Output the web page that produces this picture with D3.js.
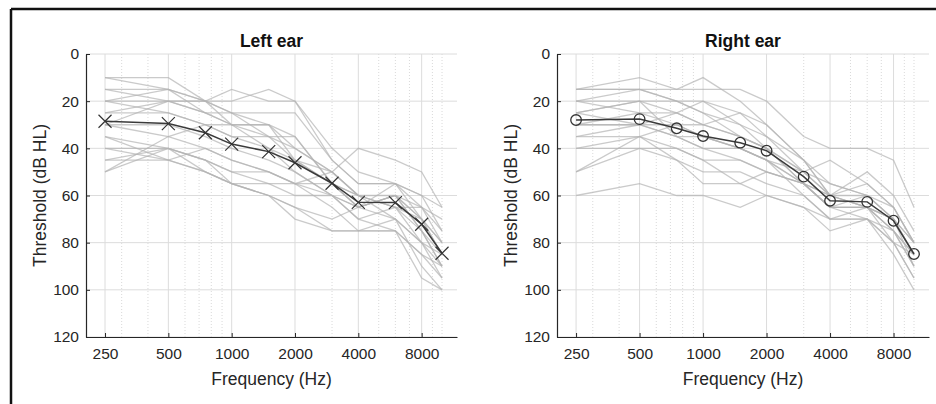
<!DOCTYPE html>
<html>
<head>
<meta charset="utf-8">
<script src="https://cdn.jsdelivr.net/npm/d3@7"></script>
<style>
  body { margin: 0; background: #fff; }
  svg text { font-family: "Liberation Sans", Arial, sans-serif; }
</style>
</head>
<body>
<div id="chart"></div>
<script>
// test frequencies (Hz)
var freqs = [250, 500, 750, 1000, 1500, 2000, 3000, 4000, 6000, 8000, 10000];
var xTicks = [250, 500, 1000, 2000, 4000, 8000];
var yTicks = [0, 20, 40, 60, 80, 100, 120];
// minor log grid
var minorTicks = [300, 400, 600, 700, 800, 900, 3000, 5000, 6000, 7000, 9000, 10000];

// individual thresholds, left ear (dB HL)
var leftLines = [
  [10, 10, 20, 25, 35, 45, 55, 60, 65, 70, 80],
  [10, 15, 25, 30, 40, 50, 60, 65, 60, 75, 90],
  [15, 15, 20, 15, 20, 20, 40, 50, 55, 60, 65],
  [15, 20, 25, 25, 25, 25, 45, 55, 55, 65, 75],
  [20, 15, 20, 20, 15, 20, 45, 55, 55, 70, 85],
  [20, 25, 30, 30, 30, 40, 50, 60, 65, 65, 80],
  [25, 25, 30, 35, 40, 45, 55, 65, 60, 75, 90],
  [25, 20, 20, 25, 30, 45, 50, 60, 70, 80, 85],
  [30, 30, 35, 40, 45, 50, 60, 70, 75, 85, 95],
  [30, 35, 40, 45, 50, 55, 55, 60, 60, 70, 80],
  [35, 40, 45, 50, 55, 60, 60, 70, 65, 80, 95],
  [35, 45, 40, 45, 50, 55, 65, 75, 70, 90, 100],
  [40, 40, 45, 55, 60, 65, 75, 75, 75, 95, 100],
  [40, 45, 50, 55, 55, 55, 60, 65, 60, 70, 85],
  [45, 40, 50, 55, 60, 65, 70, 65, 55, 60, 75],
  [45, 45, 50, 55, 60, 70, 75, 75, 75, 85, 90],
  [50, 40, 45, 50, 50, 55, 50, 40, 45, 50, 65],
  [50, 35, 30, 35, 35, 40, 50, 60, 65, 75, 85],
  [30, 20, 20, 30, 30, 35, 55, 65, 70, 80, 90],
  [20, 20, 25, 30, 35, 35, 55, 65, 60, 65, 70]
];
var leftMean = [28.5, 29.5, 33.4, 38.2, 41.4, 46.1, 54.8, 62.9, 63, 72.2, 84.5];

// individual thresholds, right ear (dB HL)
var rightLines = [
  [15, 15, 15, 15, 15, 20, 35, 40, 40, 45, 65],
  [15, 10, 15, 10, 20, 30, 45, 60, 50, 60, 75],
  [15, 15, 20, 25, 30, 40, 55, 65, 60, 70, 85],
  [20, 15, 20, 20, 25, 35, 50, 60, 65, 70, 90],
  [20, 20, 25, 30, 35, 40, 50, 60, 60, 65, 80],
  [25, 20, 20, 25, 35, 40, 55, 65, 65, 75, 85],
  [25, 30, 30, 30, 35, 40, 50, 55, 60, 70, 80],
  [30, 30, 35, 35, 40, 45, 55, 65, 70, 75, 90],
  [30, 25, 30, 35, 40, 45, 60, 70, 65, 75, 85],
  [35, 30, 35, 40, 40, 45, 55, 60, 65, 70, 85],
  [35, 35, 40, 45, 45, 50, 55, 65, 65, 80, 95],
  [40, 35, 30, 35, 40, 45, 50, 45, 55, 65, 80],
  [40, 40, 45, 50, 50, 55, 60, 70, 70, 80, 95],
  [50, 40, 40, 45, 55, 60, 65, 70, 70, 85, 100],
  [50, 35, 45, 55, 55, 50, 55, 65, 65, 75, 90],
  [60, 55, 60, 60, 65, 60, 65, 75, 70, 80, 85],
  [20, 25, 25, 20, 30, 35, 45, 55, 60, 70, 80],
  [30, 30, 25, 30, 25, 30, 45, 60, 65, 70, 85],
  [25, 20, 35, 40, 45, 50, 55, 60, 55, 65, 80]
];
var rightMean = [28, 27.6, 31.5, 34.8, 37.6, 41, 52, 62.2, 62.7, 70.7, 84.8];

var W = 936, H = 404;

var svg = d3.select("#chart")
  .append("svg")
  .attr("width", W)
  .attr("height", H);

// outer frame
svg.append("line").attr("x1", 11).attr("x2", W).attr("y1", 9).attr("y2", 9)
  .attr("stroke", "#111").attr("stroke-width", 2.5);
svg.append("line").attr("x1", 11).attr("x2", 11).attr("y1", 9).attr("y2", H)
  .attr("stroke", "#111").attr("stroke-width", 2.5);

var panels = [
  {title: "Left ear", lines: leftLines, mean: leftMean, marker: "x", left: 86, right: 457},
  {title: "Right ear", lines: rightLines, mean: rightMean, marker: "o", left: 557, right: 929}
];

var plotTop = 54, plotBottom = 337;

panels.forEach(function(p) {

  var x = d3.scaleLog()
    .domain([203, 11780])
    .range([p.left, p.right]);

  var y = d3.scaleLinear()
    .domain([0, 120])
    .range([plotTop, plotBottom]);

  var g = svg.append("g");

  //minor grid, dotted
  g.selectAll(".minor")
    .data(minorTicks)
    .enter()
    .append("line")
    .attr("x1", function(d) { return x(d); })
    .attr("x2", function(d) { return x(d); })
    .attr("y1", plotTop)
    .attr("y2", plotBottom)
    .attr("stroke", "#cfcfcf")
    .attr("stroke-width", 0.8)
    .attr("stroke-dasharray", "1,2");

  //major grid
  g.selectAll(".xgrid")
    .data(xTicks)
    .enter()
    .append("line")
    .attr("x1", function(d) { return x(d); })
    .attr("x2", function(d) { return x(d); })
    .attr("y1", plotTop)
    .attr("y2", plotBottom)
    .attr("stroke", "#dcdcdc")
    .attr("stroke-width", 1);

  g.selectAll(".ygrid")
    .data(yTicks)
    .enter()
    .append("line")
    .attr("x1", p.left)
    .attr("x2", p.right)
    .attr("y1", function(d) { return y(d); })
    .attr("y2", function(d) { return y(d); })
    .attr("stroke", "#dcdcdc")
    .attr("stroke-width", 1);

  var line = d3.line()
    .x(function(d, i) { return x(freqs[i]); })
    .y(function(d) { return y(d); });

  //individual audiograms
  g.selectAll(".subject")
    .data(p.lines)
    .enter()
    .append("path")
    .attr("d", line)
    .attr("fill", "none")
    .attr("stroke", "#b4b4b4")
    .attr("stroke-opacity", 0.7)
    .attr("stroke-width", 1.3);

  //mean audiogram
  g.append("path")
    .attr("d", line(p.mean))
    .attr("fill", "none")
    .attr("stroke", "#3a3a3a")
    .attr("stroke-width", 1.5);

  if (p.marker === "x") {
    g.selectAll(".mk")
      .data(p.mean)
      .enter()
      .append("path")
      .attr("d", function(d, i) {
        var cx = x(freqs[i]), cy = y(d), s = 6.5;
        return "M" + (cx - s) + "," + (cy - s) + "L" + (cx + s) + "," + (cy + s) +
               "M" + (cx - s) + "," + (cy + s) + "L" + (cx + s) + "," + (cy - s);
      })
      .attr("stroke", "#333")
      .attr("stroke-width", 1.2)
      .attr("fill", "none");
  } else {
    g.selectAll(".mk")
      .data(p.mean)
      .enter()
      .append("circle")
      .attr("cx", function(d, i) { return x(freqs[i]); })
      .attr("cy", function(d) { return y(d); })
      .attr("r", 5.3)
      .attr("fill", "none")
      .attr("stroke", "#333")
      .attr("stroke-width", 1.3);
  }

  //axes
  var xAxis = d3.axisBottom(x)
    .tickValues(xTicks)
    .tickFormat(d3.format("d"))
    .tickSizeInner(-4)
    .tickSizeOuter(0)
    .tickPadding(11);

  var yAxis = d3.axisLeft(y)
    .tickValues(yTicks)
    .tickSizeInner(-4)
    .tickSizeOuter(0)
    .tickPadding(7);

  var gx = svg.append("g")
    .attr("transform", "translate(0," + plotBottom + ")")
    .call(xAxis);

  var gy = svg.append("g")
    .attr("transform", "translate(" + p.left + ",0)")
    .call(yAxis);

  [gx, gy].forEach(function(a) {
    a.select(".domain").attr("stroke", "#262626").attr("stroke-width", 1.2);
    a.selectAll(".tick line").attr("stroke", "#262626");
    a.selectAll(".tick text")
      .attr("fill", "#262626")
      .style("font-size", "15.5px");
  });

  svg.append("text")
    .attr("x", (p.left + p.right) / 2)
    .attr("y", 47)
    .attr("text-anchor", "middle")
    .style("font-size", "17.5px")
    .style("font-weight", "bold")
    .attr("fill", "#111")
    .text(p.title);

  svg.append("text")
    .attr("x", (p.left + p.right) / 2)
    .attr("y", 385)
    .attr("text-anchor", "middle")
    .style("font-size", "17.5px")
    .attr("fill", "#262626")
    .text("Frequency (Hz)");

  svg.append("text")
    .attr("transform", "translate(" + (p.left - 40) + "," + ((plotTop + plotBottom) / 2) + ") rotate(-90)")
    .attr("text-anchor", "middle")
    .style("font-size", "17.5px")
    .attr("fill", "#262626")
    .text("Threshold (dB HL)");
});
</script>
</body>
</html>
